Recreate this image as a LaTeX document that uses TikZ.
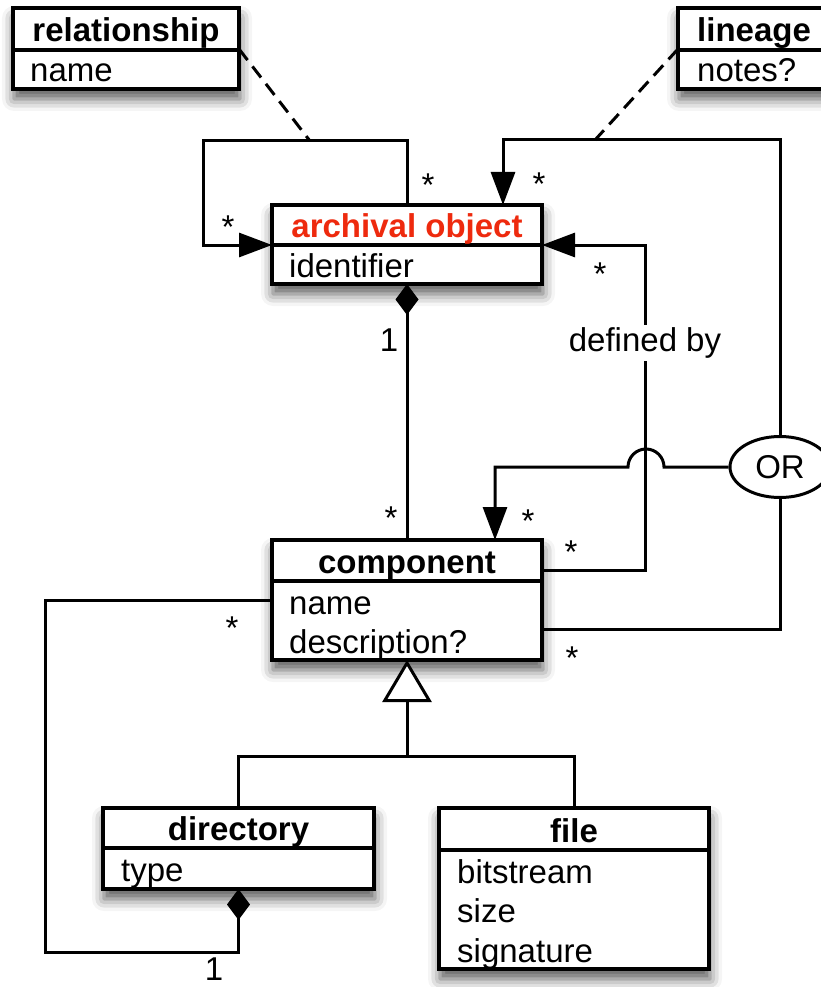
\documentclass[tikz,border=0pt]{standalone}
\usepackage{fontspec}
\setmainfont{Liberation Sans}
\usetikzlibrary{arrows.meta,shapes.geometric,shadows.blur}
\definecolor{aored}{RGB}{238,42,14}
\tikzset{
  classbox/.style={draw, line width=3.2pt, fill=white, inner sep=0pt, outer sep=0pt,
    blur shadow={shadow xshift=1pt, shadow yshift=-10pt, shadow blur radius=12pt, shadow opacity=65}},
  divider/.style={line width=3.2pt},
  headtxt/.style={font=\fontsize{33}{40}\selectfont\bfseries, inner sep=0pt, anchor=base},
  attrtxt/.style={font=\fontsize{33}{40}\selectfont, inner sep=0pt, anchor=base west},
  conn/.style={line width=3pt},
  assoc/.style={conn, dash pattern=on 14pt off 8pt},
  navarrow/.style={conn, -{Triangle[length=33pt,width=24pt]}},
  compos/.style={conn, {Diamond[length=31pt,width=23pt]}-},
  general/.style={conn, -{Triangle[open,length=42pt,width=49pt,fill=white]}},
  mult/.style={font=\fontsize{33}{40}\selectfont, inner sep=0pt, anchor=north},
  lbl/.style={font=\fontsize{33}{40}\selectfont, inner sep=0pt},
}
\begin{document}
\begin{tikzpicture}[x=1pt,y=-1pt]
\useasboundingbox (0,0) rectangle (820,987);

% ---- class boxes ----
\node[classbox, minimum width=226pt, minimum height=81pt] (rel) at (126,48.5) {};
\draw[divider] (13,50) -- (239,50);
\node[headtxt] (rel-h) at (126,42) {relationship};
\node[attrtxt] (rel-a1) at (30,82) {name};

\node[classbox, minimum width=152pt, minimum height=81pt] (lin) at (754,48.5) {};
\draw[divider] (678,50) -- (830,50);
\node[headtxt] (lin-h) at (754,42) {lineage};
\node[attrtxt] (lin-a1) at (697,82) {notes?};

\node[classbox, minimum width=270pt, minimum height=79pt] (ao) at (407,244.5) {};
\draw[divider] (272,245) -- (542,245);
\node[headtxt, text=aored] (ao-h) at (407,237) {archival object};
\node[attrtxt] (ao-a1) at (289,277) {identifier};

\node[classbox, minimum width=270pt, minimum height=120pt] (comp) at (407,600) {};
\draw[divider] (272,581) -- (542,581);
\node[headtxt] (comp-h) at (407,573) {component};
\node[attrtxt] (comp-a1) at (289,614) {name};
\node[attrtxt] (comp-a2) at (289,653) {description?};

\node[classbox, minimum width=271pt, minimum height=81pt] (dir) at (238.5,848.5) {};
\draw[divider] (103,848) -- (374,848);
\node[headtxt] (dir-h) at (238.5,840) {directory};
\node[attrtxt] (dir-a1) at (121,881) {type};

\node[classbox, minimum width=270pt, minimum height=161pt] (file) at (574,888.5) {};
\draw[divider] (439,850) -- (709,850);
\node[headtxt] (file-h) at (574,842) {file};
\node[attrtxt] (file-a1) at (457,883) {bitstream};
\node[attrtxt] (file-a2) at (457,922) {size};
\node[attrtxt] (file-a3) at (457,962) {signature};

% ---- OR constraint ----
\node[draw, ellipse, conn, fill=white, minimum width=100pt, minimum height=61pt, inner sep=0pt,
      font=\fontsize{33}{40}\selectfont] (or) at (780,467) {OR};

% ---- connectors ----
% archival object related to itself
\coordinate (selfmid) at (310,141);
\draw[navarrow] (ao.north) |- (203,141) |- ([yshift=-40pt]ao.north west);
\draw[assoc] ([yshift=-41pt]rel.north east) -- (selfmid);

% lineage: OR towards archival object
\coordinate (linmid) at (595,140);
\draw[navarrow] (or.north) |- (503,140) -- ([xshift=96pt]ao.north);
\draw[assoc] ([yshift=-41pt]lin.north west) -- (linmid);

% component defined by archival object
\draw[navarrow] ([yshift=-30pt]comp.north east) -| (645,245) -- ([yshift=-40pt]ao.north east);
\node[lbl, fill=white, inner ysep=3pt] (defby) at (645,343) {defined by};

% OR towards component, jumping over the defined-by line
\draw[navarrow] (or.west) -- (664,467) arc[start angle=0, end angle=180, radius=18pt]
  -- (495,467) -- ([xshift=88pt]comp.north);
\draw[conn] ([yshift=-89pt]comp.north east) -| (or.south);

% composition archival object -- component
\draw[compos] (ao.south) -- (comp.north);

% generalization
\coordinate (genjoin) at (407,756);
\draw[conn] (dir.north) |- (genjoin) -| (file.north);
\draw[general] (genjoin) -- (comp.south);

% composition directory -- component
\draw[compos] (dir.south) |- (45,952) |- ([yshift=-60pt]comp.north west);

% ---- multiplicities ----
\node[mult] (m1) at (428,174) {*};
\node[mult] (m2) at (228,216) {*};
\node[mult] (m3) at (539,173) {*};
\node[mult] (m4) at (600,263) {*};
\node[mult] (m5) at (528,510) {*};
\node[mult] (m6) at (571,541) {*};
\node[mult] (m7) at (572,647) {*};
\node[mult] (m8) at (391,507) {*};
\node[mult] (m9) at (232,617) {*};
\node[lbl] (one1) at (389,340) {1};
\node[lbl] (one2) at (214,969) {1};
\end{tikzpicture}
\end{document}
